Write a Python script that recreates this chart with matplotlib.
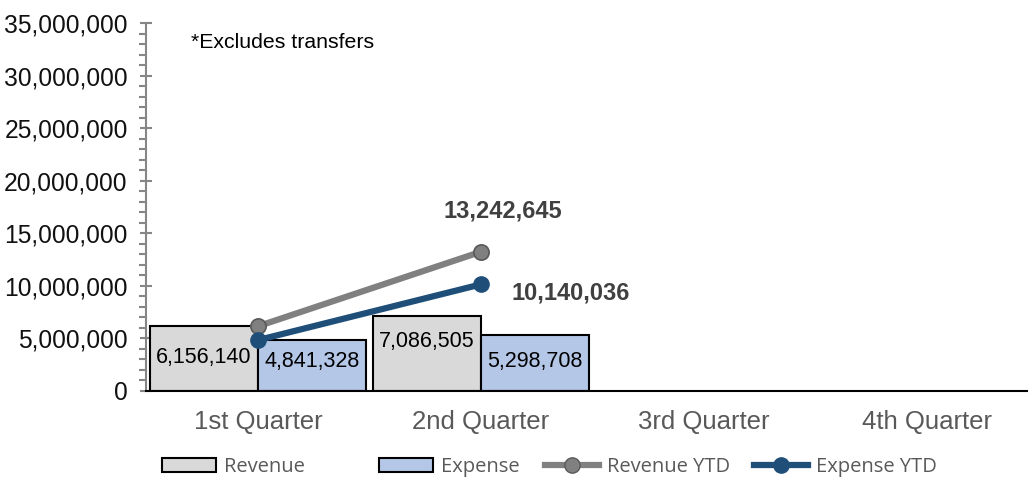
import matplotlib.pyplot as plt
from matplotlib.lines import Line2D
from matplotlib.patches import Patch
from matplotlib.ticker import FuncFormatter, MultipleLocator

# Data
quarters = ['1st Quarter', '2nd Quarter', '3rd Quarter', '4th Quarter']
revenue = [6156140, 7086505]
expense = [4841328, 5298708]
revenue_ytd = [6156140, 13242645]
expense_ytd = [4841328, 10140036]

plt.rcParams['font.family'] = ['Liberation Sans', 'DejaVu Sans']

fig = plt.figure(figsize=(10.28, 4.83), dpi=100)
ax = fig.add_axes([0.1425, 0.1905, 0.8677, 0.7619])

bar_w = 0.485
off = 0.2425
rev_x = [i - off for i in range(len(revenue))]
exp_x = [i + off for i in range(len(expense))]
ax.bar(rev_x, revenue, width=bar_w, color='#d9d9d9', edgecolor='black', linewidth=1.5, zorder=2)
ax.bar(exp_x, expense, width=bar_w, color='#b4c7e7', edgecolor='black', linewidth=1.5, zorder=2)

# bar value labels
rev_label_y = [3140000, 4700000]
exp_label_y = [2760000, 2760000]
for x, v, y in zip(rev_x, revenue, rev_label_y):
    ax.text(x, y, f'{v:,}', ha='center', va='center', fontsize=15.5, color='black', zorder=4)
for x, v, y in zip(exp_x, expense, exp_label_y):
    ax.text(x, y, f'{v:,}', ha='center', va='center', fontsize=15.5, color='black', zorder=4)

# YTD lines
xs = list(range(len(revenue_ytd)))
ax.plot(xs, revenue_ytd, color='#808080', linewidth=4.5, marker='o', markersize=11,
        markerfacecolor='#808080', markeredgecolor='#595959', markeredgewidth=1.2, zorder=3)
ax.plot(xs, expense_ytd, color='#1f4e79', linewidth=4.5, marker='o', markersize=11,
        markerfacecolor='#1f4e79', markeredgecolor='#1f4e79', zorder=3)

ax.text(1.1, revenue_ytd[1] + 3900000, f'{revenue_ytd[1]:,}', ha='center', va='center',
        fontsize=17, fontweight='bold', color='#404040')
ax.text(1.4, expense_ytd[1] - 800000, f'{expense_ytd[1]:,}', ha='center', va='center',
        fontsize=17, fontweight='bold', color='#404040')

ax.text(0.05, 0.948, '*Excludes transfers', transform=ax.transAxes, fontsize=15.3,
        ha='left', va='center', color='black')

ax.set_xlim(-0.5, 3.5)
ax.set_ylim(0, 35000000)
ax.set_xticks(range(len(quarters)))
ax.set_xticklabels(quarters, fontsize=18.5, color='#595959')
ax.tick_params(axis='x', length=0, pad=14)

ax.yaxis.set_major_locator(MultipleLocator(5000000))
ax.yaxis.set_minor_locator(MultipleLocator(1000000))
ax.yaxis.set_major_formatter(FuncFormatter(lambda v, p: f'{int(v):,}'))
ax.tick_params(axis='y', which='major', direction='inout', length=9, width=1.5,
               color='#868686', labelsize=17.7, labelcolor='#111111', pad=9)
ax.tick_params(axis='y', which='minor', direction='out', length=5, width=1.5, color='#868686')

ax.spines['top'].set_visible(False)
ax.spines['right'].set_visible(False)
ax.spines['left'].set_color('#868686')
ax.spines['left'].set_linewidth(1.5)
ax.spines['bottom'].set_color('black')
ax.spines['bottom'].set_linewidth(1.5)

# legend, one entry at a time so each sits where the reference puts it
handles = [
    Patch(facecolor='#d9d9d9', edgecolor='black', linewidth=1.5),
    Patch(facecolor='#b4c7e7', edgecolor='black', linewidth=1.5),
    Line2D([], [], color='#808080', linewidth=4.5, marker='o', markersize=11,
           markerfacecolor='#808080', markeredgecolor='#595959'),
    Line2D([], [], color='#1f4e79', linewidth=4.5, marker='o', markersize=11,
           markerfacecolor='#1f4e79', markeredgecolor='#1f4e79'),
]
labels = ['Revenue', 'Expense', 'Revenue YTD', 'Expense YTD']
legend_x = [162, 379, 545, 754]
for h, lab, lx in zip(handles, labels, legend_x):
    fig.legend([h], [lab], loc='center left', bbox_to_anchor=(lx / 1028, 0.033),
               frameon=False, prop={'family': 'Open Sans', 'size': 14.5}, labelcolor='#595959',
               handlelength=2.7, handleheight=0.7, handletextpad=0.4,
               borderaxespad=0, borderpad=0)

fig.savefig('out.png', dpi=100)
